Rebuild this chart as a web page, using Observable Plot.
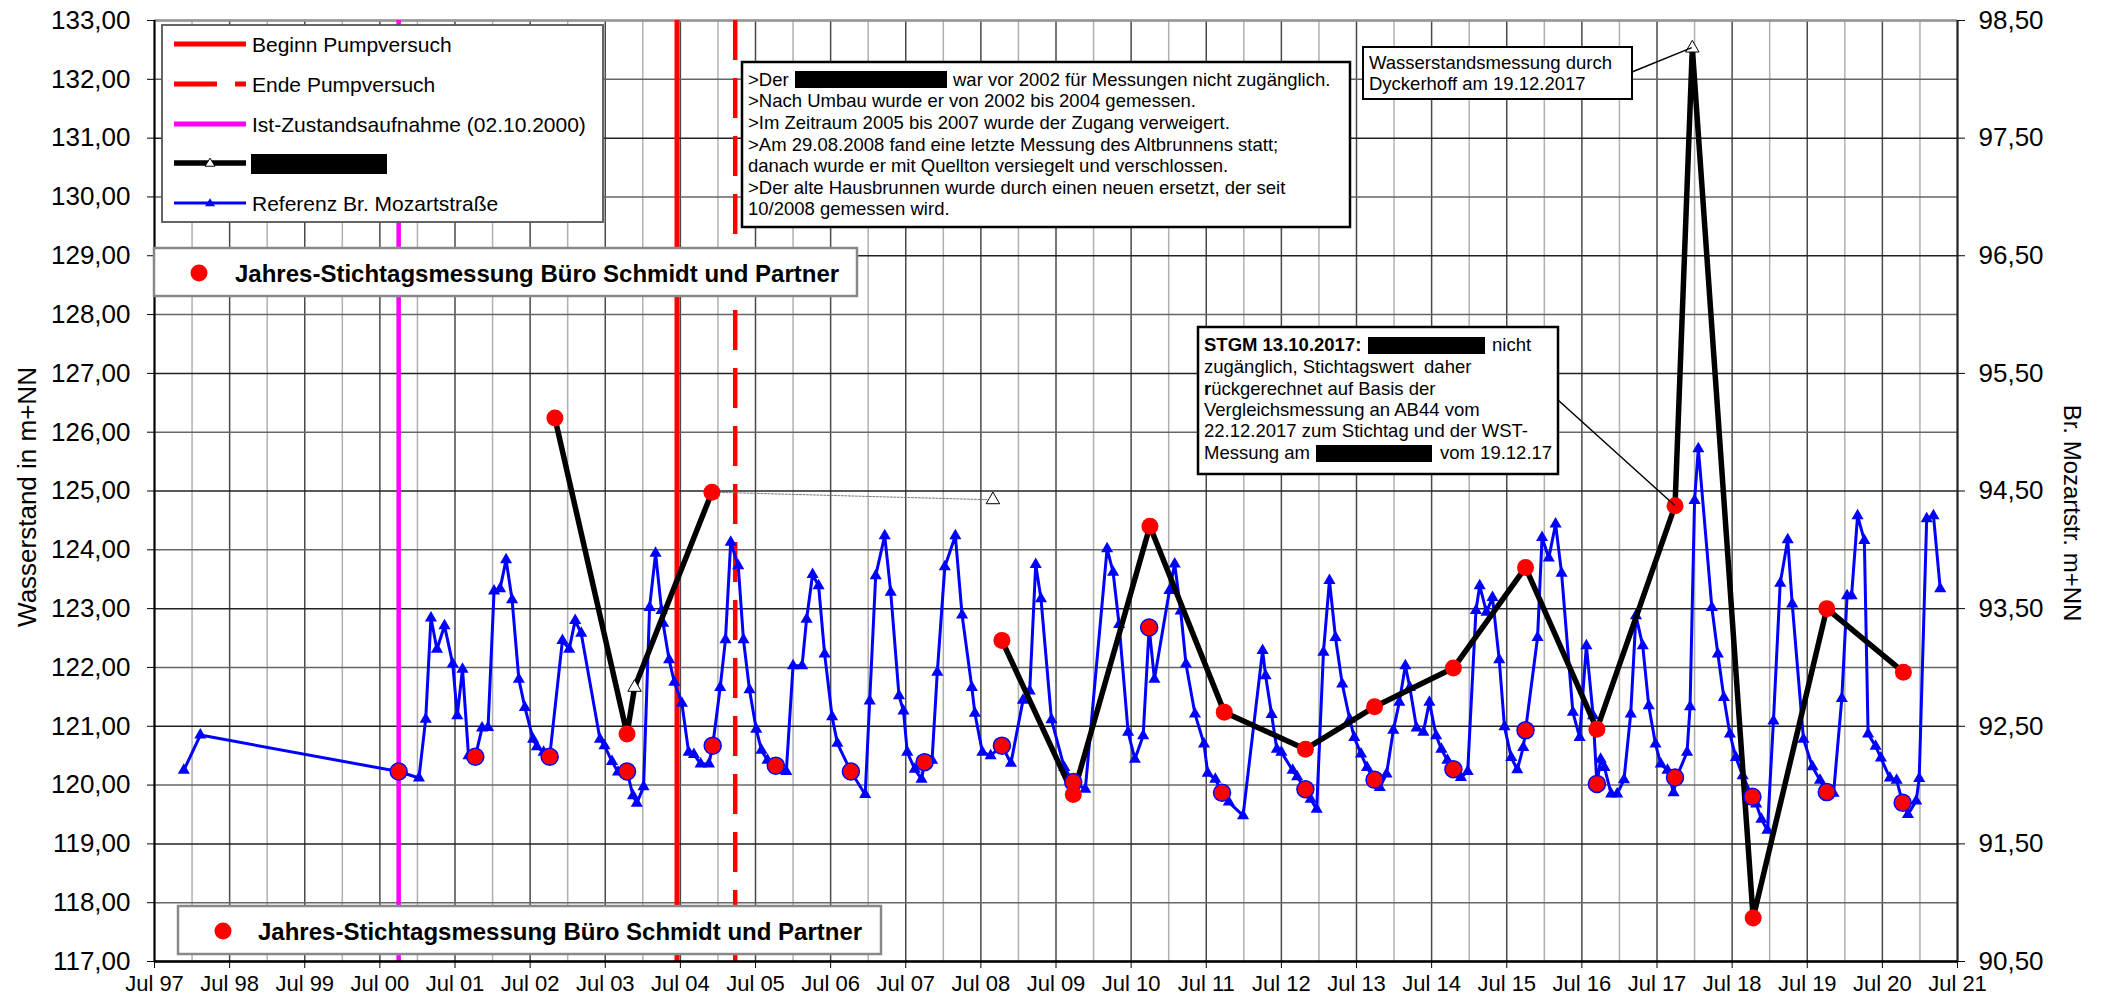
<!DOCTYPE html>
<html><head><meta charset="utf-8">
<script src="https://cdn.jsdelivr.net/npm/d3@7"></script>
<script src="https://cdn.jsdelivr.net/npm/@observablehq/plot@0.6"></script>
<style>
body{margin:0;background:#fff;}
#chart svg{display:block;}
</style>
</head><body><div id="chart"></div>
<script>
// ---------- data (decimal years, Wasserstand m+NN) ----------
const refDates = [1997.89,1998.11,2000.75,2001.02,2001.11,2001.18,2001.26,2001.36,2001.47,2001.53,2001.60,2001.68,2001.77,2001.86,2001.94,
2002.02,2002.10,2002.18,2002.26,2002.35,2002.43,2002.54,2002.59,2002.68,2002.76,2002.93,2003.02,2003.10,2003.18,2003.43,2003.49,2003.59,2003.67,2003.79,2003.87,2003.92,
2004.01,2004.09,2004.17,2004.25,2004.27,2004.35,2004.42,2004.52,2004.61,2004.68,2004.77,2004.88,2004.93,2005.03,2005.10,2005.17,2005.27,2005.34,2005.42,2005.51,2005.58,2005.66,2005.77,2005.83,2005.91,
2006.00,2006.12,2006.18,2006.26,2006.34,2006.42,2006.52,2006.59,2006.77,2006.96,2007.02,2007.10,2007.22,2007.30,2007.41,2007.47,2007.52,2007.62,2007.71,2007.75,2007.85,2007.92,
2008.02,2008.16,2008.25,2008.38,2008.42,2008.52,2008.63,2008.78,2008.90,2009.06,2009.15,2009.23,2009.30,2009.44,2009.61,2009.73,2009.89,
2010.18,2010.26,2010.34,2010.46,2010.55,2010.66,2010.74,2010.81,2011.01,2011.08,2011.16,2011.23,2011.35,2011.47,2011.52,2011.62,2011.71,2011.80,2011.99,
2012.25,2012.29,2012.37,2012.44,2012.50,2012.65,2012.71,2012.82,2012.89,2012.97,2013.06,2013.14,2013.22,2013.31,2013.41,2013.47,2013.56,2013.64,2013.74,2013.81,2013.90,2013.99,
2014.07,2014.15,2014.21,2014.30,2014.39,2014.47,2014.56,2014.63,2014.71,2014.79,2014.89,2014.98,2015.09,2015.14,2015.23,2015.31,2015.40,2015.47,2015.56,2015.64,2015.72,2015.75,2015.91,2015.97,
2016.06,2016.15,2016.23,2016.38,2016.47,2016.56,2016.65,2016.70,2016.75,2016.80,2016.89,2016.97,2017.06,2017.15,2017.22,2017.31,2017.39,2017.48,2017.55,2017.64,2017.72,2017.76,2017.90,2017.94,
2018.00,2018.05,2018.23,2018.31,2018.39,2018.47,2018.55,2018.64,2018.77,2018.82,2018.89,2018.97,2019.05,2019.14,2019.24,2019.30,2019.45,2019.57,2019.67,2019.76,2019.85,2019.96,
2020.03,2020.09,2020.17,2020.26,2020.31,2020.41,2020.48,2020.60,2020.69,2020.77,2020.84,2020.95,2020.99,2021.09,2021.18,2021.27];
const refValues = [120.25,120.85,120.23,120.12,121.12,122.84,122.31,122.71,122.06,121.18,121.97,120.50,120.48,120.97,120.98,
123.30,123.34,123.83,123.15,121.80,121.32,120.78,120.65,120.56,120.48,122.46,122.31,122.80,122.58,120.78,120.67,120.40,120.22,120.23,119.82,119.69,
119.97,123.02,123.94,122.97,122.75,122.13,121.75,121.39,120.56,120.52,120.36,120.36,120.67,121.66,122.47,124.13,123.73,122.47,121.62,120.95,120.59,120.42,120.33,120.25,120.23,
122.03,122.03,122.82,123.58,123.39,122.23,121.16,120.71,120.23,119.84,121.43,123.56,124.24,123.28,121.52,121.26,120.56,120.27,120.10,120.39,120.42,121.92,
123.71,124.24,122.89,121.66,121.22,120.56,120.50,120.67,120.37,121.44,121.60,123.75,123.17,121.11,120.30,120.05,119.93,
124.02,123.62,122.73,120.90,120.44,120.84,122.68,121.80,123.31,123.76,122.96,122.06,121.21,120.70,120.20,120.10,119.87,119.71,119.48,
122.29,121.86,121.20,120.61,120.56,120.25,120.14,119.93,119.76,119.59,122.26,123.48,122.51,121.72,121.12,120.81,120.53,120.30,120.09,119.96,120.19,120.93,
121.41,122.03,121.66,120.97,120.90,121.41,120.84,120.61,120.42,120.27,120.13,120.23,122.97,123.39,122.94,123.19,122.13,120.99,120.47,120.26,120.64,120.93,122.51,124.21,
123.86,124.44,123.60,121.24,120.81,122.37,121.18,120.02,120.44,120.30,119.85,119.85,120.09,121.21,122.88,122.37,121.35,120.70,120.36,120.25,119.87,120.13,120.56,121.33,
124.84,125.72,123.02,122.23,121.49,120.87,120.47,120.16,119.80,119.68,119.42,119.23,121.09,123.43,124.17,123.08,120.78,120.31,120.08,119.88,119.86,121.47,
123.22,123.22,124.58,124.16,120.87,120.66,120.46,120.12,120.08,119.70,119.50,119.73,120.11,124.53,124.58,123.34];

const wellDates    = [2002.83,2003.79,2003.89,2004.92,2008.66,2008.78,2009.73,2010.75,2011.74,2012.82,2013.74,2014.79,2015.75,2016.70,2017.74,2017.97,2018.78,2019.76,2020.78];
const wellValues   = [126.24,120.87,121.66,124.98,124.85,122.46,119.84,124.40,121.24,120.61,121.33,121.99,123.70,120.95,124.75,132.53,117.74,123.00,121.92];
const wellSegments = ["alt","alt","alt","alt","letzte","neu","neu","neu","neu","neu","neu","neu","neu","neu","neu","neu","neu","neu","neu"];

const stWellDates  = [2002.83,2003.79,2004.92,2008.78,2009.73,2010.75,2011.74,2012.82,2013.74,2014.79,2015.75,2016.70,2017.74,2018.78,2019.76,2020.78];
const stWellValues = [126.24,120.87,124.98,122.46,119.84,124.40,121.24,120.61,121.33,121.99,123.70,120.95,124.75,117.74,123.00,121.92];
const stRefDates   = [2000.75,2001.77,2002.76,2003.79,2004.93,2005.77,2006.77,2007.75,2008.78,2009.73,2010.74,2011.71,2012.82,2013.74,2014.79,2015.75,2016.70,2017.74,2018.77,2019.76,2020.77];
const stRefValues  = [120.23,120.48,120.48,120.23,120.67,120.33,120.23,120.39,120.67,120.05,122.68,119.87,119.93,120.09,120.27,120.93,120.02,120.13,119.80,119.88,119.70];

const istDate = [2000.75];      // Ist-Zustandsaufnahme 02.10.2000
const beginnDate = [2004.455];  // Beginn Pumpversuch
const endeDate = [2005.23];     // Ende Pumpversuch

const xTicks = [1997.5,1998.5,1999.5,2000.5,2001.5,2002.5,2003.5,2004.5,2005.5,2006.5,2007.5,2008.5,2009.5,2010.5,2011.5,2012.5,2013.5,2014.5,2015.5,2016.5,2017.5,2018.5,2019.5,2020.5,2021.5];
const xTickLabels = ["Jul 97","Jul 98","Jul 99","Jul 00","Jul 01","Jul 02","Jul 03","Jul 04","Jul 05","Jul 06","Jul 07","Jul 08","Jul 09","Jul 10","Jul 11","Jul 12","Jul 13","Jul 14","Jul 15","Jul 16","Jul 17","Jul 18","Jul 19","Jul 20","Jul 21"];
const xMinor = [1998,1999,2000,2001,2002,2003,2004,2005,2006,2007,2008,2009,2010,2011,2012,2013,2014,2015,2016,2017,2018,2019,2020,2021];
const yTicks = [117,118,119,120,121,122,123,124,125,126,127,128,129,130,131,132,133];
const yTickLabels = ["117,00","118,00","119,00","120,00","121,00","122,00","123,00","124,00","125,00","126,00","127,00","128,00","129,00","130,00","131,00","132,00","133,00"];
const rightTicks = [117,119,121,123,125,127,129,131,133];
const rightTickLabels = ["90,50","91,50","92,50","93,50","94,50","95,50","96,50","97,50","98,50"];

// ---------- tables ----------
const ref = refDates.map((d,i)=>({x:d, y:refValues[i]}));
const well = wellDates.map((d,i)=>({x:d, y:wellValues[i], s:wellSegments[i]}));
const wellLines = well.filter(d=>d.s!=="letzte");
const lastLink = [well[3], well[4]];
const stWell = stWellDates.map((d,i)=>({x:d, y:stWellValues[i]}));
const stRef = stRefDates.map((d,i)=>({x:d, y:stRefValues[i]}));

const FONT = "'Liberation Sans', Arial, Helvetica, sans-serif";

const plot = Plot.plot({
  width: 2105, height: 998,
  marginLeft: 154, marginRight: 148, marginTop: 20, marginBottom: 37,
  style: {fontFamily: FONT, background: "white", color: "black"},
  x: {domain: [1997.5, 2021.5], axis: null},
  y: {domain: [117, 133], axis: null},
  marks: [
    Plot.ruleX(xMinor, {stroke: "#b0b0b0", strokeWidth: 1.5}),
    Plot.ruleX(xTicks, {stroke: "#4a4a4a", strokeWidth: 1.5}),
    Plot.ruleY(yTicks, {stroke: d => (d % 2 === 1 ? "#222" : "#666"), strokeWidth: 1.5}),
    Plot.ruleY([133], {stroke: "#999", strokeWidth: 2.5}),
    Plot.ruleX(istDate, {stroke: "#ff00ff", strokeWidth: 4.5}),
    Plot.ruleX(beginnDate, {stroke: "#ff0000", strokeWidth: 5}),
    Plot.ruleX(endeDate, {stroke: "#ff0000", strokeWidth: 4.5, strokeDasharray: "40,18"}),
    Plot.line(ref, {x: "x", y: "y", stroke: "#0000ff", strokeWidth: 3}),
    Plot.dot(ref, {x: "x", y: "y", symbol: "triangle", fill: "#0000ff", r: 4.5}),
    Plot.line(lastLink, {x: "x", y: "y", stroke: "#777", strokeWidth: 1, strokeDasharray: "2,1.5"}),
    Plot.line(wellLines, {x: "x", y: "y", z: "s", stroke: "black", strokeWidth: 5.5}),
    Plot.dot(well, {x: "x", y: "y", symbol: "triangle", fill: "white", stroke: "black", strokeWidth: 1, r: 5}),
    Plot.dot(stRef, {x: "x", y: "y", fill: "#ff0000", stroke: "#0000ff", strokeWidth: 1.5, r: 8.5}),
    Plot.dot(stWell, {x: "x", y: "y", fill: "#ff0000", r: 8.5}),
    Plot.ruleX([1997.5], {stroke: "black", strokeWidth: 2}),
    Plot.ruleX([2021.5], {stroke: "#222", strokeWidth: 2}),
    Plot.ruleY([117], {stroke: "black", strokeWidth: 2.5}),
    Plot.axisX(xTicks, {anchor: "bottom", tickSize: 7, tickPadding: 7, fontSize: 22,
      tickFormat: d => xTickLabels[xTicks.indexOf(d)], label: null}),
    Plot.axisY(yTicks, {anchor: "left", tickSize: 7, tickPadding: 17, fontSize: 26,
      tickFormat: d => yTickLabels[yTicks.indexOf(d)], label: null}),
    Plot.axisY(rightTicks, {anchor: "right", tickSize: 7, tickPadding: 14, fontSize: 26,
      tickFormat: d => rightTickLabels[rightTicks.indexOf(d)], label: null})
  ]
});
document.getElementById("chart").appendChild(plot);

// ---------- annotations (legend, boxes, titles) ----------
const svg = d3.select(plot);
const sx = plot.scale("x"), sy = plot.scale("y");
const g = svg.append("g").attr("font-family", FONT).attr("fill", "black").attr("text-anchor", "start");

function box(x, y, w, h, stroke, sw) {
  g.append("rect").attr("x", x).attr("y", y).attr("width", w).attr("height", h)
    .attr("fill", "white").attr("stroke", stroke).attr("stroke-width", sw);
}
function txt(x, y, s, size, weight) {
  return g.append("text").attr("x", x).attr("y", y).attr("font-size", size).attr("text-anchor", "start")
    .attr("font-weight", weight || "normal").attr("dominant-baseline", "central").text(s);
}
function redact(x, y, w, h) {
  g.append("rect").attr("x", x).attr("y", y).attr("width", w).attr("height", h).attr("fill", "black");
}
function tri(cx, cy, r, fill, stroke) {
  const h = r * 1.6;
  g.append("path").attr("d", `M${cx},${cy - h * 0.6}L${cx + r},${cy + h * 0.4}L${cx - r},${cy + h * 0.4}Z`)
    .attr("fill", fill).attr("stroke", stroke || "none").attr("stroke-width", 1);
}

// Legend
box(162, 25, 441, 197, "#555", 1.8);
const legendRows = [44, 84, 124, 163, 203];
const legendLabels = ["Beginn Pumpversuch", "Ende Pumpversuch", "Ist-Zustandsaufnahme (02.10.2000)", "", "Referenz Br. Mozartstraße"];
g.append("line").attr("x1",174).attr("x2",246).attr("y1",legendRows[0]).attr("y2",legendRows[0]).attr("stroke","#ff0000").attr("stroke-width",5);
g.append("line").attr("x1",174).attr("x2",246).attr("y1",legendRows[1]).attr("y2",legendRows[1]).attr("stroke","#ff0000").attr("stroke-width",5).attr("stroke-dasharray","43,18");
g.append("line").attr("x1",174).attr("x2",246).attr("y1",legendRows[2]).attr("y2",legendRows[2]).attr("stroke","#ff00ff").attr("stroke-width",5);
g.append("line").attr("x1",174).attr("x2",246).attr("y1",legendRows[3]).attr("y2",legendRows[3]).attr("stroke","black").attr("stroke-width",5.5);
tri(210, legendRows[3], 5, "white", "black");
g.append("line").attr("x1",174).attr("x2",246).attr("y1",legendRows[4]).attr("y2",legendRows[4]).attr("stroke","#0000ff").attr("stroke-width",3);
tri(210, legendRows[4], 5, "#0000ff");
legendLabels.forEach((s, i) => { if (s) txt(252, legendRows[i], s, 21); });
redact(251, 154, 136, 20);

// Jahres-Stichtagsmessung boxes
const jLabel = "Jahres-Stichtagsmessung Büro Schmidt und Partner";
box(154, 248, 703, 48, "#888", 2.5);
g.append("circle").attr("cx", 199).attr("cy", 273).attr("r", 8.5).attr("fill", "#ff0000");
txt(235, 273, jLabel, 24, "bold");
box(178, 906, 703, 48, "#888", 2.5);
g.append("circle").attr("cx", 223).attr("cy", 931).attr("r", 8.5).attr("fill", "#ff0000");
txt(258, 931, jLabel, 24, "bold");

// Text box A
box(742, 62, 608, 165, "black", 2.5);
const aRows = [79, 100.7, 122.3, 144, 165.5, 187.3, 208.3];
txt(748, aRows[0], ">Der", 18.5);
redact(795, 71, 152, 17);
txt(953, aRows[0], "war vor 2002 für Messungen nicht zugänglich.", 18.5);
[">Nach Umbau wurde er von 2002 bis 2004 gemessen.",
 ">Im Zeitraum 2005 bis 2007 wurde der Zugang verweigert.",
 ">Am 29.08.2008 fand eine letzte Messung des Altbrunnens statt;",
 "danach wurde er mit Quellton versiegelt und verschlossen.",
 ">Der alte Hausbrunnen wurde durch einen neuen ersetzt, der seit",
 "10/2008 gemessen wird."].forEach((s, i) => txt(748, aRows[i + 1], s, 18.5));

// Text box B with leader
const peak = well[15];
g.append("line").attr("x1", 1632).attr("y1", 72).attr("x2", sx.apply(peak.x)).attr("y2", sy.apply(peak.y))
  .attr("stroke", "black").attr("stroke-width", 1.5);
box(1363, 47, 269, 52, "black", 2);
txt(1369, 62.5, "Wasserstandsmessung durch", 18.5);
txt(1369, 83.5, "Dyckerhoff am 19.12.2017", 18.5);

// Text box C with leader
const stgm = well[14];
g.append("line").attr("x1", 1558).attr("y1", 400).attr("x2", sx.apply(stgm.x)).attr("y2", sy.apply(stgm.y))
  .attr("stroke", "black").attr("stroke-width", 1.5);
box(1198, 327, 360, 147, "black", 2.5);
const cRows = [344.5, 366, 387.5, 409, 430, 452];
txt(1204, cRows[0], "STGM 13.10.2017:", 18.5, "bold");
redact(1368, 337, 117, 17);
txt(1492, cRows[0], "nicht", 18.5);
txt(1204, cRows[1], "zugänglich, Stichtagswert\u00a0 daher", 18.5);
const t3 = txt(1204, cRows[2], "", 18.5);
t3.append("tspan").attr("font-weight", "bold").text("r");
t3.append("tspan").text("ückgerechnet auf Basis der");
txt(1204, cRows[3], "Vergleichsmessung an AB44 vom", 18.5);
txt(1204, cRows[4], "22.12.2017 zum Stichtag und der WST-", 18.5);
txt(1204, cRows[5], "Messung am", 18.5);
redact(1316, 445, 116, 17);
txt(1440, cRows[5], "vom 19.12.17", 18.5);

// Axis titles
g.append("text").attr("transform", "translate(27,497) rotate(-90)").attr("text-anchor", "middle")
  .attr("dominant-baseline", "central").attr("font-size", 26).text("Wasserstand in m+NN");
g.append("text").attr("transform", "translate(2072,513) rotate(90)").attr("text-anchor", "middle")
  .attr("dominant-baseline", "central").attr("font-size", 24).text("Br. Mozartstr. m+NN");
</script>
</body></html>
